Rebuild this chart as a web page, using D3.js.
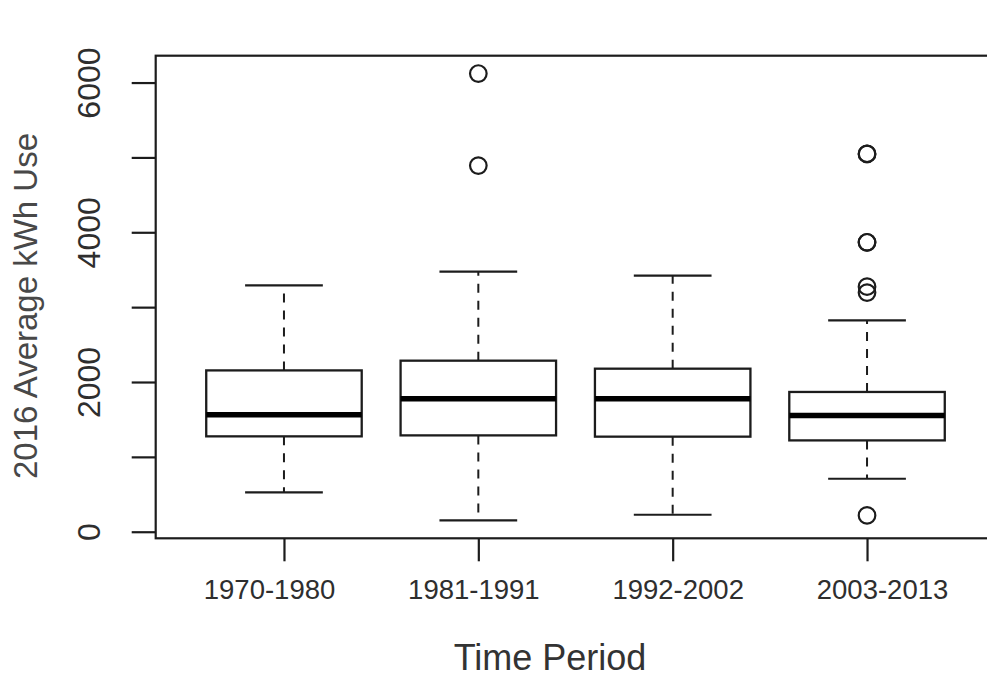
<!DOCTYPE html>
<html>
<head>
<meta charset="utf-8">
<script src="https://cdn.jsdelivr.net/npm/d3@7"></script>
<style>
  body { margin: 0; background: #fff; }
  text { font-family: "Liberation Sans", Arial, sans-serif; }
</style>
</head>
<body>
<div id="chart"></div>
<script>
// values (kWh)
var periods = ["1970-1980", "1981-1991", "1992-2002", "2003-2013"]
var lowerWhisker = [525, 151, 227, 708]
var q1 = [1274, 1287, 1270, 1220]
var medians = [1563, 1777, 1777, 1554]
var q3 = [2155, 2285, 2178, 1867]
var upperWhisker = [3291, 3474, 3421, 2824]
var outliers = [[], [6120, 4891], [], [218, 3194, 3274, 3866, 3866, 5047, 5047]]
var yTicks = [0, 1000, 2000, 3000, 4000, 5000, 6000]
var yLabelled = [0, 2000, 4000, 6000]

var W = 987, H = 678
var plot = {left: 155.7, right: 995.3, top: 55.7, bottom: 538.3}
var ink = "#1c1c1c"

var svg = d3.select("#chart").append("svg")
    .attr("width", W)
    .attr("height", H)

// R style: data range padded by 4%
var allVals = lowerWhisker.concat(upperWhisker, d3.merge(outliers))
var lo = d3.min(allVals), hi = d3.max(allVals), pad = (hi - lo) * 0.04

var y = d3.scaleLinear().domain([lo - pad, hi + pad]).range([plot.bottom, plot.top])
var x = d3.scaleLinear().domain([0.5 - 0.16, periods.length + 0.5 + 0.16]).range([plot.left, plot.right])
// the category labels sit a little wider apart than the ticks in the original
var xLabel = d3.scaleLinear().domain([1, periods.length]).range([269, 882])

var data = periods.map(function(p, i) {
  return {i: i + 1, lw: lowerWhisker[i], q1: q1[i], med: medians[i], q3: q3[i], uw: upperWhisker[i], out: outliers[i]}
})

// frame
svg.append("rect")
    .attr("x", plot.left).attr("y", plot.top)
    .attr("width", plot.right - plot.left).attr("height", plot.bottom - plot.top)
    .attr("fill", "none").attr("stroke", ink).attr("stroke-width", 2.2)

// y axis
var yAxis = svg.append("g")
    .attr("transform", "translate(" + plot.left + ",0)")
    .call(d3.axisLeft(y).tickValues(yTicks).tickSize(24)
      .tickFormat(function(d) { return yLabelled.indexOf(d) >= 0 ? d3.format("d")(d) : "" }))
yAxis.select(".domain").remove()
yAxis.selectAll(".tick line").attr("stroke", ink).attr("stroke-width", 2.2)
yAxis.selectAll(".tick text")
    .attr("x", null).attr("dy", null)
    .attr("transform", "translate(-56,0) rotate(-90)")
    .attr("text-anchor", "middle")
    .attr("fill", "#2e2e2e")
    .style("font-size", "32px")

// x axis
var xAxis = svg.append("g")
    .attr("transform", "translate(0," + plot.bottom + ")")
    .call(d3.axisBottom(x).tickValues(d3.range(1, periods.length + 1)).tickSize(23)
      .tickFormat(function(d) { return periods[d - 1] }))
xAxis.select(".domain").remove()
xAxis.selectAll(".tick line").attr("stroke", ink).attr("stroke-width", 2.2)
xAxis.selectAll(".tick text")
    .attr("x", function(d) { return xLabel(d) - x(d) })
    .attr("y", 61).attr("dy", null)
    .attr("fill", "#2e2e2e")
    .style("font-size", "27.5px")

// whiskers
var g = svg.append("g")
g.selectAll(".wh-up").data(data).enter().append("line")
    .attr("x1", function(d) { return x(d.i) }).attr("x2", function(d) { return x(d.i) })
    .attr("y1", function(d) { return y(d.q3) }).attr("y2", function(d) { return y(d.uw) })
    .attr("stroke", ink).attr("stroke-width", 2).attr("stroke-dasharray", "9,8")
g.selectAll(".wh-lo").data(data).enter().append("line")
    .attr("x1", function(d) { return x(d.i) }).attr("x2", function(d) { return x(d.i) })
    .attr("y1", function(d) { return y(d.q1) }).attr("y2", function(d) { return y(d.lw) })
    .attr("stroke", ink).attr("stroke-width", 2).attr("stroke-dasharray", "9,8")

// whisker caps
;["uw", "lw"].forEach(function(k) {
  g.selectAll(".cap-" + k).data(data).enter().append("line")
      .attr("x1", function(d) { return x(d.i - 0.2) }).attr("x2", function(d) { return x(d.i + 0.2) })
      .attr("y1", function(d) { return y(d[k]) }).attr("y2", function(d) { return y(d[k]) })
      .attr("stroke", ink).attr("stroke-width", 2.2)
})

// boxes
g.selectAll(".box").data(data).enter().append("rect")
    .attr("x", function(d) { return x(d.i - 0.4) })
    .attr("width", function(d) { return x(d.i + 0.4) - x(d.i - 0.4) })
    .attr("y", function(d) { return y(d.q3) })
    .attr("height", function(d) { return y(d.q1) - y(d.q3) })
    .attr("fill", "#fff").attr("stroke", ink).attr("stroke-width", 2.3)

// medians
g.selectAll(".med").data(data).enter().append("line")
    .attr("x1", function(d) { return x(d.i - 0.4) }).attr("x2", function(d) { return x(d.i + 0.4) })
    .attr("y1", function(d) { return y(d.med) }).attr("y2", function(d) { return y(d.med) })
    .attr("stroke", "#000").attr("stroke-width", 5.5)

// outliers
var pts = []
data.forEach(function(d) { d.out.forEach(function(v) { pts.push({i: d.i, v: v}) }) })
g.selectAll(".out").data(pts).enter().append("circle")
    .attr("cx", function(d) { return x(d.i) })
    .attr("cy", function(d) { return y(d.v) })
    .attr("r", 8.3)
    .attr("fill", "none").attr("stroke", ink).attr("stroke-width", 2.2)

// axis titles
svg.append("text")
    .attr("transform", "translate(37,306) rotate(-90)")
    .attr("text-anchor", "middle")
    .attr("fill", "#484848")
    .style("font-size", "33px")
    .text("2016 Average kWh Use")

svg.append("text")
    .attr("x", 550).attr("y", 670)
    .attr("text-anchor", "middle")
    .attr("fill", "#333")
    .style("font-size", "36px")
    .text("Time Period")
</script>
</body>
</html>
